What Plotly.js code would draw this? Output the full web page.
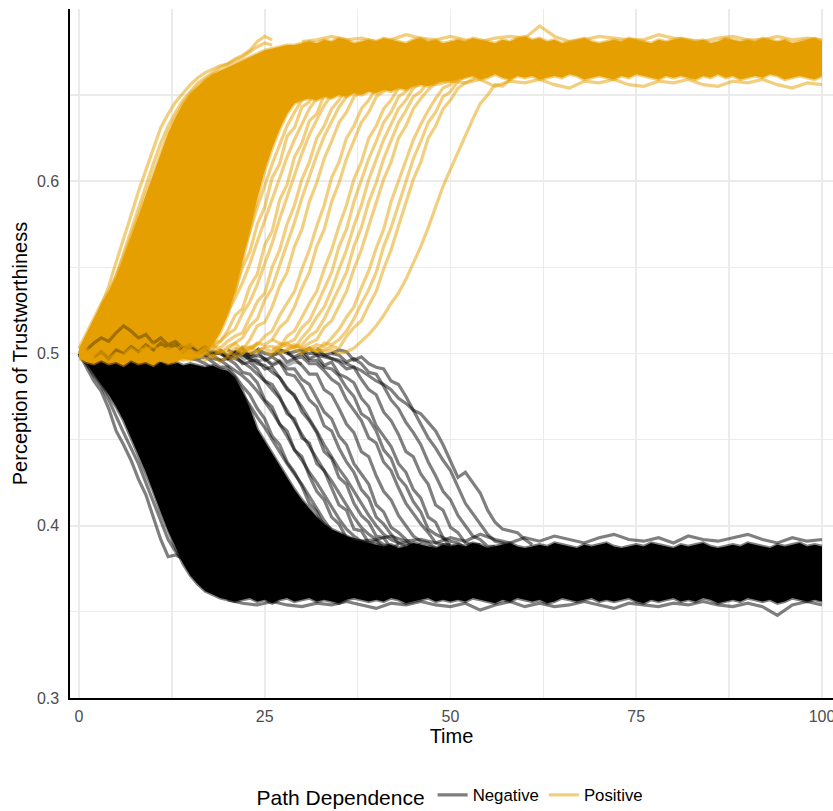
<!DOCTYPE html>
<html>
<head>
<meta charset="utf-8">
<script src="https://cdn.plot.ly/plotly-3.0.1.min.js"></script>
<style>html,body{margin:0;padding:0;background:#fff;}#chart{width:833px;height:811px;}</style>
</head>
<body>
<div id="chart"></div>
<script>
// ---------- DATA ----------
const xTicks = [0, 25, 50, 75, 100];
const yTicks = [0.3, 0.4, 0.5, 0.6];
const yTickText = ['0.3', '0.4', '0.5', '0.6'];
const groupNames = ['Negative', 'Positive'];

// envelope of the dense bundles, one value per time step 0..100
const posUpper = [.503,.512,.521,.529,.536,.545,.556,.568,.58,.592,.605,.617,.628,.637,.645,.651,.655,.659,.662,.664,.666,.668,.67,.672,.674,.676,.677,.678,.679,.679,.68,
 .681,.680,.682,.681,.683,.682,.680,.681,.682,.681,
 .683,.682,.681,.680,.682,.683,.681,.682,.680,.681,
 .682,.681,.683,.682,.681,.680,.682,.681,.683,.684,
 .682,.683,.681,.682,.680,.681,.682,.683,.681,.680,
 .681,.682,.681,.683,.682,.681,.680,.682,.681,.682,
 .683,.682,.681,.682,.680,.681,.683,.682,.681,.682,
 .681,.683,.682,.681,.682,.680,.681,.682,.683,.681];
const posLower = [.497,.495,.494,.496,.494,.495,.493,.496,.494,.495,.493,.496,.494,.495,.497,.496,.498,
 .5,.505,.512,.522,.536,.553,.571,.59,.606,.619,.63,.639,.645,
 .647,.648,.647,.649,.648,.65,.649,.651,.65,.652,.651,.653,.652,.654,.653,.655,.656,.655,.657,.658,.658,
 .659,.660,.661,.659,.660,.662,.660,.659,.661,.660,
 .661,.659,.660,.661,.660,.662,.661,.659,.660,.661,
 .660,.659,.661,.660,.662,.661,.660,.659,.661,.660,
 .661,.660,.659,.661,.660,.662,.660,.661,.659,.660,
 .661,.660,.662,.661,.659,.660,.661,.660,.659,.661];
const negUpper = [.5,.499,.5,.498,.499,.497,.498,.496,.497,.495,.496,.495,.494,.495,.493,.494,.493,.492,.493,.491,.49,
 .486,.478,.468,.456,.449,.442,.435,.428,.421,.415,.41,.405,.401,.398,.396,.394,.392,.391,.39,.389,
 .388,.389,.387,.388,.390,.389,.388,.387,.389,.388,
 .389,.388,.390,.389,.387,.388,.389,.390,.388,.387,
 .388,.389,.388,.390,.389,.388,.387,.389,.388,.389,
 .390,.388,.387,.388,.389,.388,.390,.389,.388,.387,
 .389,.388,.389,.390,.388,.387,.388,.389,.388,.390,
 .389,.388,.387,.389,.388,.389,.390,.388,.389,.388];
const negLower = [.499,.494,.488,.482,.476,.469,.461,.451,.441,.431,.42,.408,.397,.387,.378,.371,.366,.362,.36,.358,.357,
 .356,.357,.358,.356,.357,.355,.357,.358,.356,.357,
 .358,.356,.357,.356,.355,.357,.358,.357,.356,.357,
 .356,.358,.357,.355,.356,.357,.358,.356,.357,.356,
 .357,.356,.358,.357,.356,.355,.357,.356,.358,.357,
 .356,.357,.355,.356,.358,.357,.356,.357,.358,.356,
 .357,.356,.357,.358,.356,.355,.357,.356,.357,.358,
 .356,.357,.356,.358,.357,.355,.356,.357,.356,.358,
 .357,.356,.357,.355,.356,.358,.357,.356,.357,.356];

// outlying runs at the edges of the plateaus (every 2 time steps)
const posHiStart = 30, posHi = [.681,.682,.684,.682,.683,.681,.682,.685,.683,.682,.684,.682,.681,.683,.684,.683,.690,.684,.681,.682,.684,.683,.682,.682,.685,.683,.682,.681,.683,.684,.682,.682,.684,.682,.683,.682];
const posLoStart = 30, posLo = [.649,.650,.651,.652,.653,.654,.655,.656,.657,.656,.658,.657,.659,.655,.658,.657,.659,.656,.654,.658,.657,.659,.656,.655,.658,.657,.659,.656,.655,.658,.657,.659,.656,.654,.657,.656];
const negHiStart = 36, negHi = [.393,.391,.392,.394,.391,.392,.390,.393,.391,.395,.392,.390,.393,.391,.394,.392,.390,.393,.395,.392,.391,.393,.390,.394,.392,.391,.393,.395,.392,.390,.393,.391,.392];
const negLoStart = 20, negLo = [.357,.355,.354,.356,.354,.353,.355,.354,.356,.354,.352,.355,.354,.356,.354,.353,.355,.351,.354,.356,.353,.355,.353,.354,.356,.354,.352,.355,.354,.353,.355,.354,.356,.354,.353,.355,.353,.348,.354,.356,.354];

// individual positive (orange) runs, one value per time step from their start
const posStarts = [11,12,13,14,15,16,17,18,20,21,23,24,25,26,27,29,30,31];
const posA = [.501,.503,.502,.505,.504,.508,.513,.519,.526,.535,.546,.558,.571,.585,.598,.61,.621,.632,.64,.647,.653,.657,.66,.662,.664];
const pos1 = [.501,.498,.502,.506,.503,.508,.515,.519,.53,.536,.55,.559,.575,.585,.602,.61,.626,.631,.643,.646,.655,.656,.661,.661,.665];
const posB = [.5,.501,.504,.506,.505,.511,.517,.524,.532,.541,.552,.565,.577,.59,.602,.614,.624,.633,.642,.648,.653,.658,.66,.662,.665];
const pos2 = [.503,.501,.500,.504,.506,.507,.513,.522,.526,.539,.546,.563,.571,.589,.598,.614,.622,.635,.639,.65,.652,.658,.659,.663,.663];
const posC = [.502,.5,.503,.503,.507,.511,.514,.523,.53,.54,.552,.564,.578,.591,.604,.616,.627,.636,.644,.65,.655,.658,.661,.663,.664];
const pos3 = [.500,.502,.505,.503,.507,.510,.512,.521,.53,.535,.55,.56,.575,.586,.601,.611,.625,.632,.642,.647,.654,.656,.661,.661,.665];
const posD = [.499,.502,.5,.504,.506,.509,.516,.52,.531,.538,.551,.563,.576,.59,.603,.615,.626,.635,.643,.649,.654,.658,.66,.663,.665];
const pos4 = [.504,.501,.502,.506,.502,.508,.516,.518,.527,.539,.547,.562,.572,.588,.599,.613,.623,.634,.64,.649,.652,.658,.659,.663,.662];
const pos5 = [.501,.499,.504,.503,.505,.51,.513,.522,.529,.536,.549,.56,.574,.586,.602,.611,.625,.632,.642,.647,.654,.656,.661,.661,.664];
const pos6 = [.503,.502,.501,.506,.505,.508,.515,.519,.527,.538,.547,.562,.572,.588,.599,.613,.623,.634,.64,.649,.652,.658,.66,.663,.663];
const pos7 = [.500,.501,.504,.504,.503,.51,.513,.521,.529,.536,.549,.56,.574,.586,.601,.611,.625,.632,.642,.647,.654,.656,.661,.662,.664];
const pos8 = [.502,.503,.501,.505,.506,.508,.515,.519,.528,.538,.547,.562,.572,.588,.6,.613,.623,.634,.64,.649,.652,.658,.659,.663,.665];
const pos9 = [.501,.499,.503,.506,.503,.509,.514,.521,.527,.537,.549,.56,.574,.586,.601,.612,.624,.633,.642,.647,.654,.657,.66,.662,.663];
const pos10 = [.503,.501,.502,.504,.505,.51,.513,.52,.529,.538,.547,.562,.573,.588,.599,.613,.623,.634,.641,.649,.652,.658,.659,.663,.664];
const pos11 = [.500,.502,.504,.503,.506,.508,.515,.519,.528,.536,.549,.56,.574,.587,.601,.611,.625,.632,.642,.648,.653,.657,.661,.661,.665];
const pos12 = [.502,.500,.503,.505,.504,.509,.514,.521,.527,.538,.548,.561,.572,.588,.6,.612,.624,.633,.641,.648,.654,.656,.66,.663,.663];
const pos13 = [.501,.503,.501,.506,.505,.508,.513,.52,.529,.537,.547,.562,.573,.586,.599,.613,.623,.634,.64,.649,.652,.658,.661,.662,.664];
const pos14 = [.503,.501,.502,.504,.503,.51,.515,.519,.528,.536,.549,.56,.574,.587,.601,.611,.625,.632,.642,.647,.654,.657,.659,.663,.665];
const posLateStart = 26;
const posLate = [.508,.506,.504,.505,.503,.502,.503,.501,.502,.500,.501,.503,.507,.511,.516,.522,.529,.535,.543,.552,.562,.573,.585,.597,.607,.617,.627,.636,.645,.65,.656,.655,.659,.662,.664];
const posEarly1 = [.5,.507,.516,.527,.539,.553,.566,.58,.594,.606,.619,.631,.639,.646,.651,.656,.66,.663,.665,.667,.668,.671,.673,.676,.681,.684,.682];
const posEarly2 = [.5,.505,.512,.522,.533,.545,.558,.571,.585,.598,.61,.622,.632,.64,.647,.652,.657,.66,.663,.666,.668,.67,.672,.675,.678,.68,.679];
const posMix1 = [.5,.503,.499,.504,.501,.506,.502,.507,.503,.501,.505,.5,.503,.498,.502,.497,.5,.496,.499,.495,.498,.497,.5,.503,.506];
const posMix2 = [.5,.498,.501,.497,.5,.499,.503,.5,.504,.499,.502,.498,.5,.496,.499,.497,.501,.498,.502,.499,.503,.5,.504,.501];

// individual negative (black) runs
const negStarts = [13,14,15,16,17,18,19,20,21,22,24,26,27,28,30,32,34];
const neg1 = [.500,.502,.499,.497,.498,.495,.492,.492,.487,.481,.476,.468,.462,.452,.447,.437,.431,.423,.413,.408,.399,.396,.391,.39,.387];
const negA = [.499,.497,.496,.494,.491,.489,.485,.481,.476,.47,.463,.457,.45,.443,.436,.43,.424,.417,.41,.403,.397,.393,.39,.388,.386];
const neg2 = [.503,.5,.501,.499,.496,.497,.494,.489,.488,.483,.473,.469,.459,.455,.444,.44,.429,.42,.415,.405,.401,.393,.392,.388,.389];
const negB = [.501,.499,.497,.496,.493,.49,.487,.483,.478,.472,.466,.459,.452,.444,.438,.431,.425,.418,.411,.404,.398,.394,.391,.389,.387];
const neg3 = [.499,.501,.5,.497,.499,.494,.495,.491,.484,.482,.475,.465,.462,.451,.448,.436,.432,.422,.412,.409,.398,.397,.39,.391,.387];
const negC = [.5,.5,.498,.497,.495,.492,.488,.484,.479,.474,.467,.46,.453,.446,.439,.432,.426,.419,.412,.405,.399,.395,.392,.389,.388];
const neg4 = [.502,.498,.501,.5,.496,.496,.491,.492,.486,.479,.476,.466,.461,.454,.443,.439,.428,.424,.413,.406,.402,.394,.393,.387,.389];
const negD = [.502,.5,.499,.497,.494,.493,.489,.486,.48,.475,.469,.462,.455,.447,.44,.433,.427,.42,.413,.406,.4,.395,.392,.39,.388];
const neg5 = [.5,.503,.498,.499,.497,.493,.495,.488,.487,.481,.473,.469,.458,.455,.445,.437,.431,.421,.416,.405,.401,.395,.39,.39,.388];
const neg6 = [.501,.499,.502,.496,.498,.495,.491,.491,.485,.482,.474,.466,.462,.452,.447,.436,.43,.424,.412,.408,.399,.396,.392,.388,.389];
const neg7 = [.503,.5,.499,.5,.495,.497,.493,.488,.488,.479,.476,.468,.459,.454,.443,.44,.429,.42,.415,.406,.4,.394,.391,.39,.387];
const neg8 = [.499,.502,.501,.497,.498,.494,.494,.49,.485,.482,.473,.467,.461,.451,.448,.437,.432,.422,.413,.407,.401,.396,.39,.389,.389];
const neg9 = [.502,.5,.498,.5,.496,.496,.492,.491,.487,.48,.475,.465,.462,.455,.444,.439,.428,.423,.414,.408,.398,.395,.393,.388,.388];
const neg10 = [.5,.501,.502,.497,.499,.493,.495,.488,.486,.483,.474,.469,.458,.452,.446,.436,.431,.421,.416,.405,.402,.393,.391,.39,.387];
const neg11 = [.501,.503,.499,.498,.497,.495,.491,.492,.485,.479,.476,.466,.461,.453,.443,.44,.43,.424,.412,.409,.399,.396,.39,.389,.389];
const neg12 = [.503,.499,.5,.499,.495,.497,.494,.489,.488,.481,.473,.468,.46,.454,.447,.437,.429,.42,.415,.406,.4,.394,.392,.388,.388];
const neg13 = [.5,.502,.501,.496,.498,.494,.492,.491,.484,.482,.475,.467,.459,.451,.445,.438,.432,.422,.413,.407,.401,.395,.391,.39,.387];
const negLateStart = 30;
const negLate = [.501,.5,.5,.499,.497,.496,.494,.492,.49,.487,.484,.482,.479,.474,.471,.467,.465,.46,.455,.447,.437,.428,.431,.425,.419,.409,.402,.398,.397,.396,.392,.389];
const negEarly1 = [.5,.492,.484,.478,.468,.455,.447,.438,.427,.418,.405,.392,.382,.383,.381,.374,.37,.366,.363];
const negEarly2 = [.5,.494,.487,.481,.473,.463,.454,.445,.436,.425,.414,.402,.392,.385,.38,.376,.371,.367,.364];
const negMix1Start = 1, negMix1 = [.502,.506,.509,.507,.512,.516,.513,.509,.511,.506,.509,.505,.507,.503,.505,.501,.504,.5,.502,.499,.501,.498,.5,.497];
const negMix2Start = 2, negMix2 = [.498,.501,.497,.502,.5,.504,.501,.505,.502,.506,.503,.505,.501,.504,.5,.502,.499,.501,.497,.5,.496,.498,.495,.497,.494,.496,.493,.495,.494];

// ---------- STYLE ----------
const ORANGE = '#E69F00';
const ORANGE_LINE = 'rgba(230,159,0,0.5)';
const BLACK_LINE = 'rgba(0,0,0,0.5)';
const MIX_LINE = 'rgba(0,0,0,0.3)';
const LW = 3.2;
const FONT = 'Liberation Sans, Arial, Helvetica, sans-serif';

const tEnv = Array.from({length: posUpper.length}, (_, i) => i);
const steps = (start, n, d) => Array.from({length: n}, (_, i) => start + d * i);

function core(upper, lower, color) {
  return {x: tEnv.concat(tEnv.slice().reverse()), y: upper.concat(lower.slice().reverse()),
    type: 'scatter', mode: 'lines', fill: 'toself', fillcolor: color, line: {width: 0, color: color},
    showlegend: false, hoverinfo: 'skip'};
}
function run(start, ys, color, d, legend, name) {
  return {x: steps(start, ys.length, d || 1), y: ys, type: 'scatter', mode: 'lines',
    line: {color: color, width: LW}, showlegend: !!legend, name: name || '', legendgroup: name || color,
    hoverinfo: 'skip'};
}

const traces = [];
// negative group
traces.push(core(negUpper, negLower, '#000000'));
traces.push(run(0, negUpper, BLACK_LINE, 1));
traces.push(run(0, negLower, BLACK_LINE, 1));
traces.push(run(negHiStart, negHi, BLACK_LINE, 2));
traces.push(run(negLoStart, negLo, BLACK_LINE, 2));
const negRuns = [neg1,negA,neg2,negB,neg3,negC,neg4,negD,neg5,neg6,neg7,neg8,neg9,neg10,neg11,neg12,neg13];
negRuns.forEach((r, i) => traces.push(run(negStarts[i], r, BLACK_LINE, 1, i === 0, groupNames[0])));
traces.push(run(negLateStart, negLate, BLACK_LINE, 1));
traces.push(run(0, negEarly1, BLACK_LINE, 1));
traces.push(run(0, negEarly2, BLACK_LINE, 1));
// positive group
traces.push(core(posUpper, posLower, ORANGE));
traces.push(run(negMix1Start, negMix1, MIX_LINE, 1));
traces.push(run(negMix2Start, negMix2, MIX_LINE, 1));
traces.push(run(0, posUpper, ORANGE_LINE, 1));
traces.push(run(0, posLower, ORANGE_LINE, 1));
traces.push(run(posHiStart, posHi, ORANGE_LINE, 2));
traces.push(run(posLoStart, posLo, ORANGE_LINE, 2));
const posRuns = [posA,pos1,posB,pos2,posC,pos3,posD,pos4,pos5,pos6,pos7,pos8,pos9,pos10,pos11,pos12,pos13,pos14];
posRuns.forEach((r, i) => traces.push(run(posStarts[i], r, ORANGE_LINE, 1, i === 0, groupNames[1])));
traces.push(run(posLateStart, posLate, ORANGE_LINE, 1));
traces.push(run(0, posEarly1, ORANGE_LINE, 1));
traces.push(run(0, posEarly2, ORANGE_LINE, 1));
traces.push(run(0, posMix1, ORANGE_LINE, 1));
traces.push(run(1, posMix2, ORANGE_LINE, 1));

const grid = '#EBEBEB';
const layout = {
  width: 833, height: 811,
  margin: {l: 70, r: 0, t: 9, b: 113, pad: 0},
  paper_bgcolor: '#fff', plot_bgcolor: '#fff',
  font: {family: FONT, color: '#000'},
  showlegend: true,
  xaxis: {
    range: [-1.21, 101.48], tickmode: 'array', tickvals: xTicks, ticktext: xTicks.map(String),
    showgrid: true, gridcolor: grid, gridwidth: 1.8, zeroline: false,
    showline: true, linecolor: '#000', linewidth: 1.6, ticks: '', ticklabelstandoff: 3,
    ticklabeloverflow: 'allow',
    tickfont: {size: 16, color: '#4D4D4D', family: FONT},
    minor: {tickmode: 'linear', tick0: 0, dtick: 12.5, showgrid: true, gridcolor: grid, gridwidth: 1.3},
    title: {text: 'Time', font: {size: 20, color: '#000', family: FONT}, standoff: 4},
    automargin: false, fixedrange: true
  },
  yaxis: {
    range: [0.3, 0.6999], tickmode: 'array', tickvals: yTicks, ticktext: yTickText,
    showgrid: true, gridcolor: grid, gridwidth: 1.8, zeroline: false,
    showline: true, linecolor: '#000', linewidth: 1.6, ticks: '', ticklabelstandoff: 6,
    tickfont: {size: 16, color: '#4D4D4D', family: FONT},
    minor: {tickmode: 'linear', tick0: 0.3, dtick: 0.05, showgrid: true, gridcolor: grid, gridwidth: 1.3},
    title: {text: 'Perception of Trustworthiness', font: {size: 20, color: '#000', family: FONT}, standoff: 4},
    automargin: false, fixedrange: true
  },
  legend: {
    orientation: 'h', xref: 'paper', x: 0.5, xanchor: 'center',
    yref: 'container', y: 0.018, yanchor: 'middle',
    title: {text: 'Path Dependence', side: 'left', font: {size: 21, color: '#000', family: FONT}},
    font: {size: 16.8, color: '#000', family: FONT}, bgcolor: 'rgba(0,0,0,0)', itemwidth: 30
  }
};
Plotly.newPlot('chart', traces, layout, {staticPlot: true, displayModeBar: false});
</script>
</body>
</html>
